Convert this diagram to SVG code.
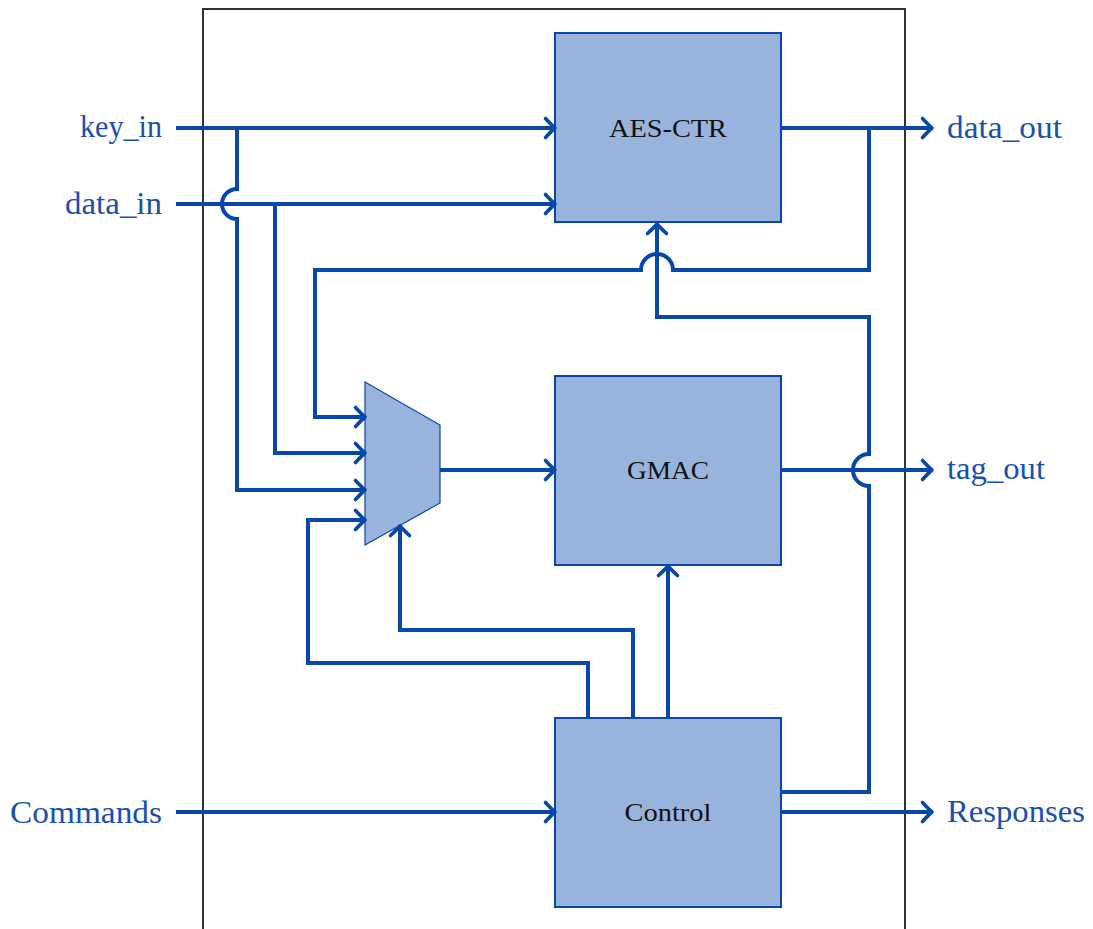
<svg xmlns="http://www.w3.org/2000/svg" width="1093" height="929" viewBox="0 0 1093 929">
<style>
.box{fill:#99b4dc;stroke:#0747a9;stroke-width:2}
.mux{fill:#99b4dc;stroke:#0747a9;stroke-width:1.2}
.bt{font-family:"Liberation Serif",serif;font-size:26px;fill:#111;text-anchor:middle}
.lt{font-family:"Liberation Serif",serif;font-size:31px;fill:#1a4fb0}
.c{fill:none;stroke:#0747a9;stroke-width:4;stroke-linejoin:miter}
.a{marker-end:url(#ar)}
</style>
<defs>
<marker id="ar" markerUnits="userSpaceOnUse" viewBox="-14 -12 18 24" markerWidth="18" markerHeight="24" refX="0" refY="0" orient="auto" overflow="visible">
<path d="M-9.5,-9.5 Q-3,-2.5 0,0 Q-3,2.5 -9.5,9.5" fill="none" stroke="#0747a9" stroke-width="3.6" stroke-linecap="round" stroke-linejoin="round"/>
</marker>
</defs>
<rect width="1093" height="929" fill="#fff"/>
<path d="M203,929 V9 H905 V929" fill="none" stroke="#333" stroke-width="2"/>
<g id="aes"><rect class="box" x="555" y="33" width="226" height="189"/><text class="bt" x="668" y="137" textLength="118" lengthAdjust="spacingAndGlyphs">AES-CTR</text></g>
<g id="gmac"><rect class="box" x="555" y="376" width="226" height="189"/><text class="bt" x="668" y="479" textLength="82" lengthAdjust="spacingAndGlyphs">GMAC</text></g>
<g id="control"><rect class="box" x="555" y="718" width="226" height="189"/><text class="bt" x="668" y="821" textLength="87" lengthAdjust="spacingAndGlyphs">Control</text></g>
<g id="mux"><polygon class="mux" points="365,382 440,425 440,503 365,545"/></g>
<g id="labels">
<text class="lt" x="80" y="137" textLength="82" lengthAdjust="spacingAndGlyphs">key_in</text>
<text class="lt" x="65" y="214" textLength="97" lengthAdjust="spacingAndGlyphs">data_in</text>
<text class="lt" x="10" y="823" textLength="152" lengthAdjust="spacingAndGlyphs">Commands</text>
<text class="lt" x="947" y="138" textLength="115" lengthAdjust="spacingAndGlyphs">data_out</text>
<text class="lt" x="947" y="479" textLength="98" lengthAdjust="spacingAndGlyphs">tag_out</text>
<text class="lt" x="947" y="822" textLength="138" lengthAdjust="spacingAndGlyphs">Responses</text>
</g>
<g id="connectors">
<path class="c a" d="M176,128 H555"/>
<path class="c a" d="M237,128 V189 A15,15 0 0 0 237,219 V490 H365"/>
<path class="c a" d="M176,204 H555"/>
<path class="c a" d="M275,204 V453 H365"/>
<path class="c a" d="M781,128 H932"/>
<path class="c a" d="M869,128 V270 H673 A16,16 0 0 0 641,270 H315 V417 H365"/>
<path class="c a" d="M781,792 H869 V486 A16,16 0 0 1 869,454 V317 H657 V224"/>
<path class="c a" d="M440,470 H555"/>
<path class="c a" d="M781,470 H932"/>
<path class="c a" d="M176,812 H555"/>
<path class="c a" d="M781,812 H932"/>
<path class="c a" d="M668,718 V566"/>
<path class="c a" d="M633,718 V630 H400 V526"/>
<path class="c a" d="M588,718 V663 H308 V520 H365"/>
</g>
</svg>
